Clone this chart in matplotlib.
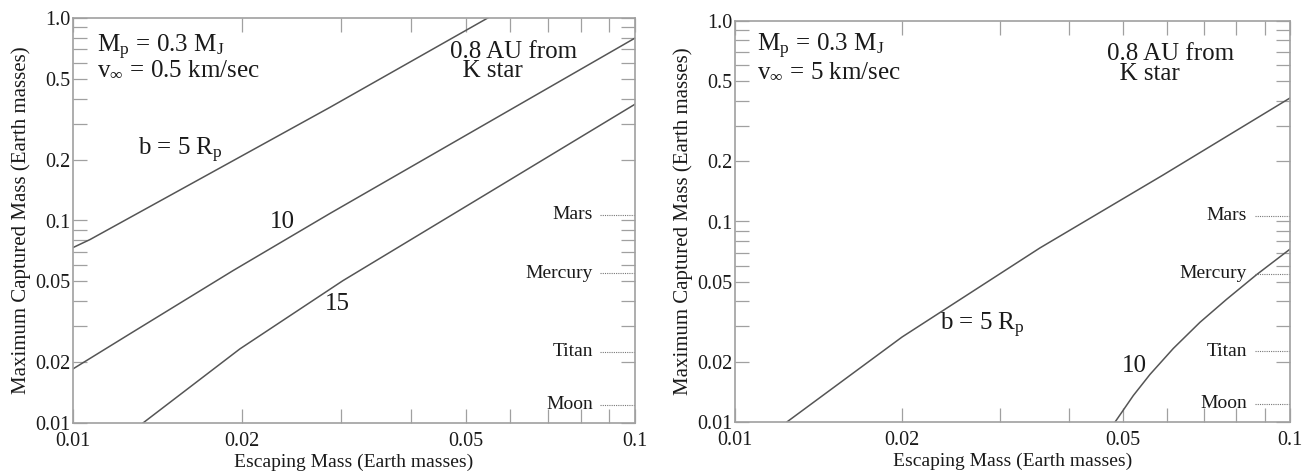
import matplotlib
matplotlib.use("Agg")
import matplotlib.pyplot as plt
from matplotlib.ticker import FixedLocator, FixedFormatter, NullFormatter

plt.rcParams['font.family'] = ['Liberation Serif', 'DejaVu Serif']
plt.rcParams['mathtext.fontset'] = 'stix'

# ---- data ----
# Left panel: v_inf = 0.5 km/s
left_b5_x = [0.01, 0.01072, 0.02865, 0.0547]
left_b5_y = [0.0735, 0.0805, 0.362, 1.0]
left_b10_x = [0.01, 0.01263, 0.01926, 0.02865, 0.1]
left_b10_y = [0.0185, 0.02758, 0.05654, 0.1083, 0.796]
left_b15_x = [0.01332, 0.01982, 0.03022, 0.055, 0.1]
left_b15_y = [0.01, 0.02324, 0.05046, 0.1376, 0.3752]

# Right panel: v_inf = 5 km/s
right_b5_x = [0.0124, 0.0200, 0.03543, 0.05905, 0.1]
right_b5_y = [0.01, 0.02654, 0.0738, 0.1705, 0.413]
right_b10_x = [0.0484, 0.0522, 0.05593, 0.06163, 0.06882, 0.07688, 0.08719, 0.1]
right_b10_y = [0.01, 0.01355, 0.01726, 0.02328, 0.03141, 0.04093, 0.0545, 0.0728]

bodies = ["Mars", "Mercury", "Titan", "Moon"]
body_mass = [0.107, 0.055, 0.0225, 0.0123]

x_major = [0.01, 0.02, 0.05, 0.1]
x_major_labels = ["0.01", "0.02", "0.05", "0.1"]
x_minor = [0.03, 0.04, 0.06, 0.07, 0.08, 0.09]
y_major = [0.01, 0.02, 0.05, 0.1, 0.2, 0.5, 1.0]
y_major_labels = ["0.01", "0.02", "0.05", "0.1", "0.2", "0.5", "1.0"]
y_minor = [0.03, 0.04, 0.06, 0.07, 0.08, 0.09, 0.3, 0.4, 0.6, 0.7, 0.8, 0.9]

W, H = 1312, 473
fig = plt.figure(figsize=(W / 100, H / 100), dpi=100)

spine_c = '#a0a0a0'
line_c = '#555555'
text_c = '#1a1a1a'

def make_axes(rect):
    ax = fig.add_axes(rect)
    ax.set_xscale('log')
    ax.set_yscale('log')
    ax.set_xlim(0.01, 0.1)
    ax.set_ylim(0.01, 1.0)
    ax.xaxis.set_major_locator(FixedLocator(x_major))
    ax.xaxis.set_major_formatter(FixedFormatter(x_major_labels))
    ax.xaxis.set_minor_locator(FixedLocator(x_minor))
    ax.xaxis.set_minor_formatter(NullFormatter())
    ax.yaxis.set_major_locator(FixedLocator(y_major))
    ax.yaxis.set_major_formatter(FixedFormatter(y_major_labels))
    ax.yaxis.set_minor_locator(FixedLocator(y_minor))
    ax.yaxis.set_minor_formatter(NullFormatter())
    for which in ('major', 'minor'):
        ax.tick_params(which=which, direction='in', length=10, width=0.9,
                       color=spine_c, top=True, right=True, labelsize=14.5,
                       labelcolor=text_c)
    ax.tick_params(axis='x', which='major', pad=6.5)
    ax.tick_params(axis='y', which='major', pad=2)
    for s in ax.spines.values():
        s.set_color(spine_c)
        s.set_linewidth(1.2)
    ax.set_xlabel('Escaping Mass (Earth masses)', fontsize=14, color=text_c, labelpad=2)
    ax.set_ylabel('Maximum Captured Mass (Earth masses)', fontsize=15, color=text_c, labelpad=3)
    return ax

axL = make_axes([73 / W, 1 - 423 / H, (635 - 73) / W, (423 - 18) / H])
axR = make_axes([735 / W, 1 - 422 / H, (1290 - 735) / W, (422 - 21) / H])

for ax, xs, ys in [(axL, left_b5_x, left_b5_y), (axL, left_b10_x, left_b10_y),
                   (axL, left_b15_x, left_b15_y), (axR, right_b5_x, right_b5_y),
                   (axR, right_b10_x, right_b10_y)]:
    ax.plot(xs, ys, color=line_c, lw=1.1, clip_on=True)

# planet markers
for ax, xlab in [(axL, 0.925), (axR, 0.922)]:
    for name, m in zip(bodies, body_mass):
        ax.plot([0.0866, 0.1], [m, m], color='#777777', lw=0.8, ls=(0, (1, 1)))
        ax.text(xlab, m, name, transform=ax.get_yaxis_transform(), ha='right',
                va='center', fontsize=14, color=text_c)

big = 18
star_text = '0.8 AU from\n  K star'
# Left annotations
axL.text(0.043, 0.918, r'M$_\mathregular{p}$ = 0.3 M$_\mathregular{J}$', transform=axL.transAxes,
         fontsize=big, va='baseline', color=text_c)
axL.text(0.043, 0.857, r'v$_\mathregular{\infty}$ = 0.5 km/sec', transform=axL.transAxes,
         fontsize=big, va='baseline', color=text_c)
axL.text(0.671, 0.854, star_text, transform=axL.transAxes, fontsize=big,
         va='baseline', ha='left', multialignment='left', linespacing=0.86, color=text_c)
axL.text(0.116, 0.662, r'b = 5 R$_\mathregular{p}$', transform=axL.transAxes, fontsize=big,
         va='baseline', color=text_c)
axL.text(0.351, 0.481, '10', transform=axL.transAxes, fontsize=big, va='baseline', color=text_c)
axL.text(0.448, 0.279, '15', transform=axL.transAxes, fontsize=big, va='baseline', color=text_c)

# Right annotations
axR.text(0.040, 0.925, r'M$_\mathregular{p}$ = 0.3 M$_\mathregular{J}$', transform=axR.transAxes,
         fontsize=big, va='baseline', color=text_c)
axR.text(0.040, 0.858, r'v$_\mathregular{\infty}$ = 5 km/sec', transform=axR.transAxes,
         fontsize=big, va='baseline', color=text_c)
axR.text(0.670, 0.853, star_text, transform=axR.transAxes, fontsize=big,
         va='baseline', ha='left', multialignment='left', linespacing=0.86, color=text_c)
axR.text(0.369, 0.229, r'b = 5 R$_\mathregular{p}$', transform=axR.transAxes, fontsize=big,
         va='baseline', color=text_c)
axR.text(0.697, 0.125, '10', transform=axR.transAxes, fontsize=big, va='baseline', color=text_c)

fig.savefig('out.png', dpi=100)
